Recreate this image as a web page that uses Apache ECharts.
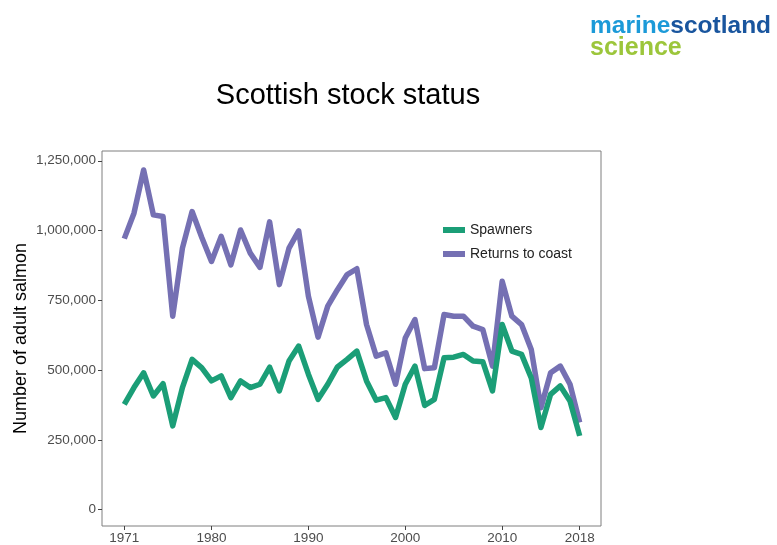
<!DOCTYPE html>
<html>
<head>
<meta charset="utf-8">
<script src="https://cdn.jsdelivr.net/npm/echarts@6/dist/echarts.min.js"></script>
<style>
html,body{margin:0;padding:0;background:#fff;}
#chart{width:777px;height:545px;}
</style>
</head>
<body>
<div id="chart"></div>
<script>
var years = [1971,1972,1973,1974,1975,1976,1977,1978,1979,1980,1981,1982,1983,1984,1985,1986,1987,1988,1989,1990,1991,1992,1993,1994,1995,1996,1997,1998,1999,2000,2001,2002,2003,2004,2005,2006,2007,2008,2009,2010,2011,2012,2013,2014,2015,2016,2017,2018];
var returnsToCoast = [971000,1062000,1217000,1056000,1050000,693000,937000,1068000,975000,889000,979000,877000,1002000,919000,868000,1031000,806000,937000,999000,765000,618000,729000,788000,842000,863000,663000,550000,562000,449000,615000,681000,505000,508000,699000,693000,693000,657000,645000,514000,818000,693000,663000,574000,365000,490000,514000,449000,312000];
var spawners = [377000,437000,490000,407000,451000,300000,437000,538000,508000,461000,479000,401000,461000,437000,449000,510000,425000,532000,586000,485000,395000,449000,511000,538000,568000,461000,392000,401000,330000,449000,514000,373000,395000,544000,546000,556000,532000,530000,425000,663000,568000,556000,472000,294000,413000,443000,389000,264000];
var xTickLabels = [1971,1980,1990,2000,2010,2018];
var yTickLabels = [0,250000,500000,750000,1000000,1250000];

function pairs(vals){ return years.map(function(y,i){ return [y, vals[i]]; }); }
function fmt(v){ return String(v).replace(/\B(?=(\d{3})+(?!\d))/g, ','); }

var chart = echarts.init(document.getElementById('chart'), null, {renderer:'canvas'});
var font = 'Liberation Sans, Arial, sans-serif';
chart.setOption({
  animation:false,
  backgroundColor:'#ffffff',
  title:{
    text:'Scottish stock status',
    left:343, top:76, textAlign:'center',
    textStyle:{fontFamily:font,fontSize:29,fontWeight:'normal',color:'#000'}
  },
  graphic:[
    {type:'text', left:590, top:14, style:{
      text:'{a|marine}{b|scotland}',
      rich:{
        a:{fill:'#1c9ad8',fontFamily:font,fontSize:24.5,fontWeight:'bold'},
        b:{fill:'#19559e',fontFamily:font,fontSize:24.5,fontWeight:'bold'}
      }
    }},
    {type:'text', left:590, top:36, style:{
      text:'science', fill:'#9cc63b', font:'bold 25px Liberation Sans, Arial, sans-serif'
    }}
  ],
  legend:{
    left:438, top:218, orient:'vertical', itemGap:10,
    itemWidth:22, itemHeight:6, icon:'rect',
    textStyle:{fontFamily:font,fontSize:14,color:'#222'},
    data:['Spawners','Returns to coast']
  },
  grid:{left:102, top:151, width:499, height:375, show:true, borderColor:'#7f7f7f', borderWidth:1, containLabel:false},
  xAxis:{
    type:'value', min:1968.7, max:2020.2,
    axisLine:{show:false, onZero:false},
    splitLine:{show:false},
    axisTick:{show:true, inside:false, length:4, lineStyle:{color:'#444'}, customValues:xTickLabels},
    axisLabel:{show:true, customValues:xTickLabels, color:'#4d4d4d', fontFamily:font, fontSize:13.5, margin:5, formatter:function(v){return String(v);}}
  },
  yAxis:{
    type:'value', min:-59000, max:1285000,
    name:'Number of adult salmon', nameLocation:'middle', nameGap:72, nameRotate:90,
    nameMoveOverlap:false,
    nameTextStyle:{fontFamily:font,fontSize:18,color:'#000'},
    axisLine:{show:false, onZero:false},
    splitLine:{show:false},
    axisTick:{show:true, inside:false, length:4, lineStyle:{color:'#444'}, customValues:yTickLabels},
    axisLabel:{show:true, customValues:yTickLabels, color:'#4d4d4d', fontFamily:font, fontSize:13.5, margin:6, formatter:function(v){return fmt(v);}}
  },
  series:[
    {name:'Spawners', type:'line', data:pairs(spawners), symbol:'none', color:'#1b9e77',
     lineStyle:{width:5.5, color:'#1b9e77', join:'round'}, z:3},
    {name:'Returns to coast', type:'line', data:pairs(returnsToCoast), symbol:'none', color:'#7570b3',
     lineStyle:{width:5.5, color:'#7570b3', join:'round'}, z:2}
  ]
});
</script>
</body>
</html>
